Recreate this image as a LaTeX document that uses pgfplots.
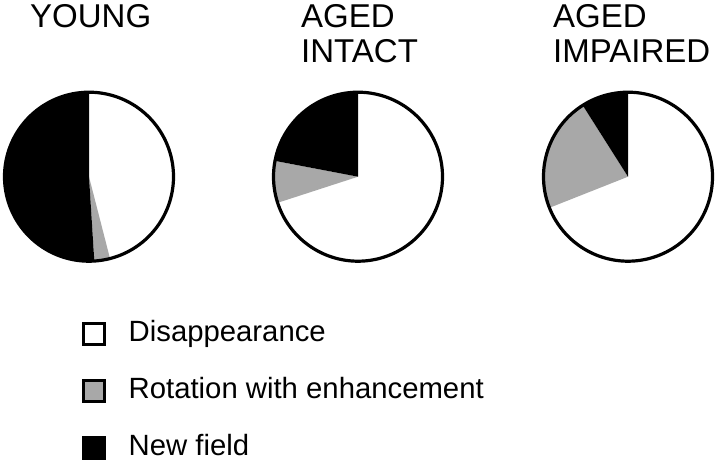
\documentclass[border=0pt]{standalone}
\usepackage{pgfplots}
\pgfplotsset{compat=1.18}
\usepackage{fontspec}
\setmainfont{Liberation Sans}

\definecolor{rotgray}{gray}{0.66}

\newcommand{\R}{84.5}
\newcommand{\Cy}{284.3}
% one pie: #1 centre x, #2 disappearance, #3 rotation with enhancement, #4 new field (per cent)
\newcommand{\pie}[4]{%
  \pgfmathsetmacro\aA{90-3.6*#2}%
  \pgfmathsetmacro\aB{\aA-3.6*#3}%
  \pgfmathsetmacro\aC{\aB-3.6*#4}%
  \edef\doplots{%
    \noexpand\addplot[forget plot, fill=white, draw=none, domain=\aA:90, samples=120]
      ({#1+\R*cos(x)},{\Cy+\R*sin(x)}) -- (axis cs:#1,\Cy) -- cycle;
    \noexpand\addplot[forget plot, fill=rotgray, draw=none, domain=\aB:\aA, samples=40]
      ({#1+\R*cos(x)},{\Cy+\R*sin(x)}) -- (axis cs:#1,\Cy) -- cycle;
    \noexpand\addplot[forget plot, fill=black, draw=none, domain=\aC:\aB, samples=120]
      ({#1+\R*cos(x)},{\Cy+\R*sin(x)}) -- (axis cs:#1,\Cy) -- cycle;
    \noexpand\addplot[forget plot, draw=black, line width=3.2bp, domain=0:360, samples=240]
      ({#1+\R*cos(x)},{\Cy+\R*sin(x)}) -- cycle;
  }\doplots
}

\begin{document}
\begin{tikzpicture}
\begin{axis}[
  width=720bp, height=461bp, scale only axis,
  xmin=0, xmax=720, ymin=0, ymax=461,
  axis line style={draw=none}, ticks=none,
  clip=false,
  legend cell align=left,
  legend style={at={(axis cs:82,141)}, anchor=north west,
    draw=none, fill=none, inner sep=0pt,
    font=\fontsize{29.3bp}{34bp}\selectfont,
    row sep=30bp, column sep=23bp,
    nodes={inner sep=0pt, text height=21bp, text depth=6bp}},
]
\pie{89}{46}{3}{51}
\pie{358}{70}{8}{22}
\pie{628}{69}{22}{9}

\addlegendimage{legend image code/.code={\draw[line width=3bp, draw=black, fill=white] (1.5bp,-10.5bp) rectangle (22bp,10bp);}}
\addlegendentry{Disappearance}
\addlegendimage{legend image code/.code={\draw[line width=3bp, draw=black, fill=rotgray] (1.5bp,-10.5bp) rectangle (22bp,10bp);}}
\addlegendentry{Rotation with enhancement}
\addlegendimage{legend image code/.code={\draw[line width=3bp, draw=black, fill=black] (1.5bp,-10.5bp) rectangle (22bp,10bp);}}
\addlegendentry{New field}

\node[anchor=base west, inner sep=0pt, font=\fontsize{33bp}{35bp}\selectfont] at (axis cs:30,433) {YOUNG};
\node[anchor=base west, inner sep=0pt, font=\fontsize{33bp}{35bp}\selectfont] at (axis cs:301,433) {AGED};
\node[anchor=base west, inner sep=0pt, font=\fontsize{33bp}{35bp}\selectfont] at (axis cs:301,398) {INTACT};
\node[anchor=base west, inner sep=0pt, font=\fontsize{33bp}{35bp}\selectfont] at (axis cs:553,433) {AGED};
\node[anchor=base west, inner sep=0pt, font=\fontsize{33bp}{35bp}\selectfont] at (axis cs:553,398) {IMPAIRED};
\end{axis}
\end{tikzpicture}
\end{document}
